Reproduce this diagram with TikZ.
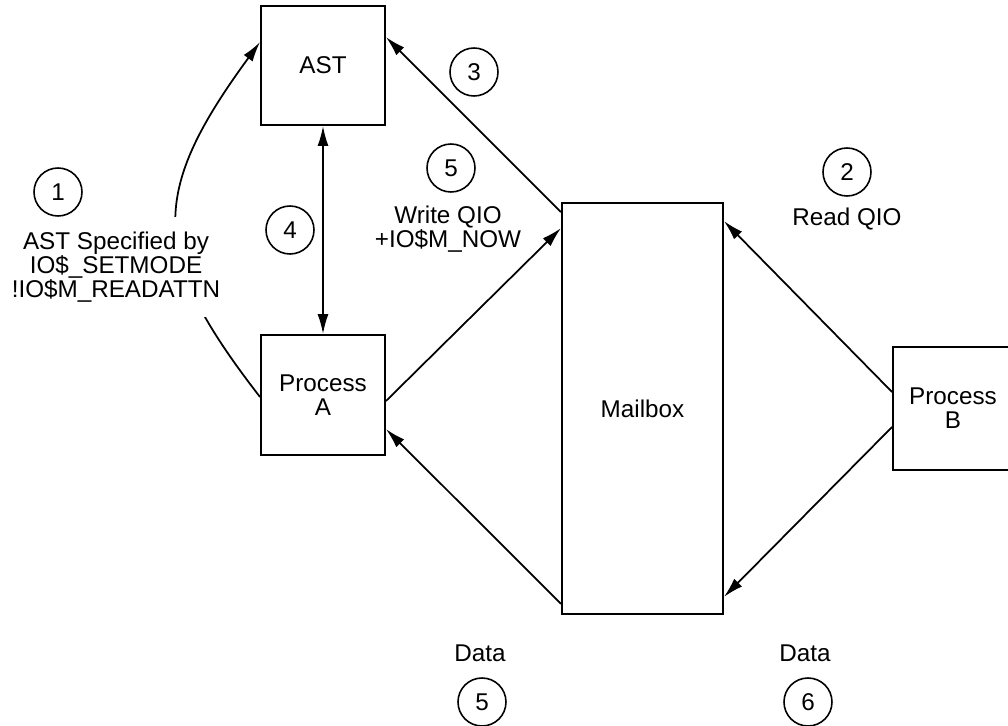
\documentclass[tikz,border=0pt]{standalone}
\usepackage{fontspec}
\setmainfont{Liberation Sans}
\usetikzlibrary{arrows.meta}

\begin{document}
\begin{tikzpicture}[x=0.02cm,y=-0.02cm,>={Latex[length=0.4cm,width=0.22cm]},
  font=\fontsize{13.8}{13.5}\selectfont,
  box/.style={draw,line width=1.1pt,inner sep=0pt,align=center},
  num/.style={draw,circle,line width=0.9pt,minimum size=0.96cm,inner sep=0pt},
  conn/.style={line width=1pt}]
\useasboundingbox (0,0) rectangle (1008,726);
\node[box,minimum width=2.48cm,minimum height=2.38cm] (ast) at (323,65.5) {AST};
\node[box,minimum width=2.48cm,minimum height=2.4cm] (pa) at (323,395) {Process\\A};
\node[box,minimum width=3.22cm,minimum height=8.22cm] (mb) at (642.5,408.5) {Mailbox};
\node[box,minimum width=2.4cm,minimum height=2.46cm] (pb) at (953,408.5) {Process\\B};
% AST request from process A
\draw[conn,->] ([yshift=-1.26cm]pa.north west) .. controls (150,255) and (148,195) .. ([yshift=-0.74cm]ast.north west);
\node[fill=white,align=center,inner xsep=0.1cm,inner ysep=0.3cm] (spec) at (116,267) {AST Specified by\\IO\$\_SETMODE\\!IO\$M\_READATTN};
\draw[conn,<->] (ast) -- (pa);
\draw[conn,->] ([yshift=-0.2cm]mb.north west) -- ([yshift=-0.64cm]ast.north east);
\draw[conn,->] ([yshift=-1.34cm]pa.north east) -- ([yshift=-0.52cm]mb.north west);
\draw[conn,->] ([yshift=0.22cm]mb.south west) -- ([yshift=-1.9cm]pa.north east);
\draw[conn,->] ([yshift=0.33cm]pb.west) -- ([yshift=-0.38cm]mb.north east);
\draw[conn,->] ([yshift=-0.37cm]pb.west) -- ([yshift=0.36cm]mb.south east);
% step numbers
\node[num] (n1) at (58,192) {1};
\node[num] (n4) at (290,230) {4};
\node[num] (n3) at (474,72) {3};
\node[num] (n5) at (451,168) {5};
\node[align=center] (wq) at (448,229) {Write QIO\\+IO\$M\_NOW};
\node[num] (n2) at (847,172) {2};
\node (rq) at (847,219) {Read QIO};
\node (d5) at (480,653) {Data};
\node[num] (n5b) at (482,702) {5};
\node (d6) at (805,653) {Data};
\node[num] (n6) at (808,702) {6};
\end{tikzpicture}
\end{document}
